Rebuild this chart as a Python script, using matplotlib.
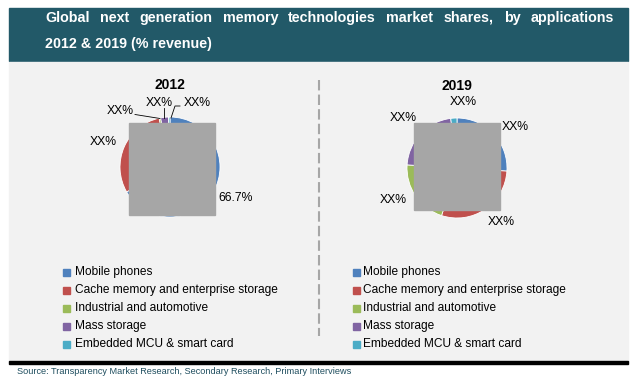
import matplotlib
matplotlib.use("Agg")
from matplotlib import pyplot as plt
from matplotlib.patches import Rectangle
import numpy as np

plt.rcParams['font.family'] = ['Liberation Sans', 'DejaVu Sans']

# data (most slices hidden / estimated)
categories = ["Mobile phones", "Cache memory and enterprise storage",
              "Industrial and automotive", "Mass storage",
              "Embedded MCU & smart card"]
colors = ["#4f81bd", "#c0504d", "#9bbb59", "#8064a2", "#4bacc6"]
shares_2012 = [66.7, 29.8, 0.5, 2.5, 0.5]
shares_2019 = [26.0, 29.0, 21.0, 22.0, 2.0]
labels_2012 = ["66.7%", "XX%", "XX%", "XX%", "XX%"]
labels_2019 = ["XX%", "XX%", "XX%", "XX%", "XX%"]
title_1 = "Global next generation memory technologies market shares, by applications"
title_2 = "2012 & 2019 (% revenue)"

W, H = 636, 384
fig = plt.figure(figsize=(W / 100, H / 100), dpi=100)
fig.patch.set_facecolor("white")

def px(x, y, w, h):
    # pixel box (top-left origin) -> figure fraction
    return [x / W, 1 - (y + h) / H, w / W, h / H]

def pixel_axes(z):
    a = fig.add_axes([0, 0, 1, 1], zorder=z)
    a.set_xlim(0, W)
    a.set_ylim(H, 0)
    a.axis("off")
    a.patch.set_alpha(0)
    return a

# background panels
bg = pixel_axes(0)
bg.add_patch(Rectangle((9, 8), 619, 53, color="#225968"))
bg.add_patch(Rectangle((9, 62), 619, 300, color="#f2f2f2"))
bg.add_patch(Rectangle((9, 361), 619, 3, color="black"))
bg.plot([319, 319], [80, 336], color="#a6a6a6", lw=1.5, dashes=(5, 2))
bg.text(17, 371, "Source: Transparency Market Research, Secondary Research, Primary Interviews",
        color="#1f4e5f", fontsize=6.6, va="center", ha="left")

# justified first title line
renderer = fig.canvas.get_renderer()
words = title_1.split()
wtexts = [bg.text(0, 18, w, color="white", fontsize=10.3, fontweight="bold",
                  va="center", ha="left") for w in words]
widths = [t.get_window_extent(renderer).width for t in wtexts]
x0, x1 = 45, 614
gap = (x1 - x0 - sum(widths)) / (len(words) - 1)
x = x0
for t, w in zip(wtexts, widths):
    t.set_x(x)
    x += w + gap
bg.text(45, 44, title_2, color="white", fontsize=10.3,
        fontweight="bold", va="center", ha="left")

# label offsets in radius units (layout only)
offs_2012 = [(1.32, -0.62), (-1.34, 0.5), (-1.0, 1.12), (-0.22, 1.28), (0.54, 1.28)]
offs_2019 = [(1.16, 0.82), (0.88, -1.08), (-1.28, -0.64), (-1.08, 1.0), (0.12, 1.32)]

def draw_pie(cx, cy, r, shares, labels, offs, year):
    ax = fig.add_axes(px(cx - r * 1.6, cy - r * 1.6, r * 3.2, r * 3.2), zorder=2)
    ax.pie(shares, colors=colors, startangle=90, counterclock=False, radius=1,
           wedgeprops=dict(linewidth=0.6, edgecolor="white"))
    ax.set_xlim(-1.6, 1.6)
    ax.set_ylim(-1.6, 1.6)
    ax.set_aspect("equal")
    ax.axis("off")
    for lab, (dx, dy) in zip(labels, offs):
        ax.text(dx, dy, lab, fontsize=8.8, ha="center", va="center", color="black")
    ax.text(0, 1.64, year, fontsize=10, fontweight="bold", ha="center", va="center")
    return ax

ax1 = draw_pie(170, 167, 50, shares_2012, labels_2012, offs_2012, "2012")
# leader lines for the small 2012 slices
ax1.plot([-0.7, -0.2], [1.05, 0.97], color="black", lw=0.6)
ax1.plot([-0.12, -0.12], [1.18, 0.98], color="black", lw=0.6)
ax1.plot([0.2, 0.1, 0.02], [1.22, 1.22, 0.98], color="black", lw=0.6)
ax2 = draw_pie(457, 168, 50, shares_2019, labels_2019, offs_2019, "2019")

# grey boxes covering the pies, legends on top
top = pixel_axes(5)
top.add_patch(Rectangle((129, 123), 86, 92, color="#a6a6a6"))
top.add_patch(Rectangle((414, 123), 86, 87, color="#a6a6a6"))

for lx, tx in [(66, 75), (356, 363)]:
    for i, (name, c) in enumerate(zip(categories, colors)):
        y = 272 + i * 18
        top.add_patch(Rectangle((lx - 3.5, y - 3.5), 7, 7, color=c))
        top.text(tx, y, name, fontsize=8.6, va="center", ha="left", color="black")

fig.savefig("out.png", dpi=100, facecolor="white")
